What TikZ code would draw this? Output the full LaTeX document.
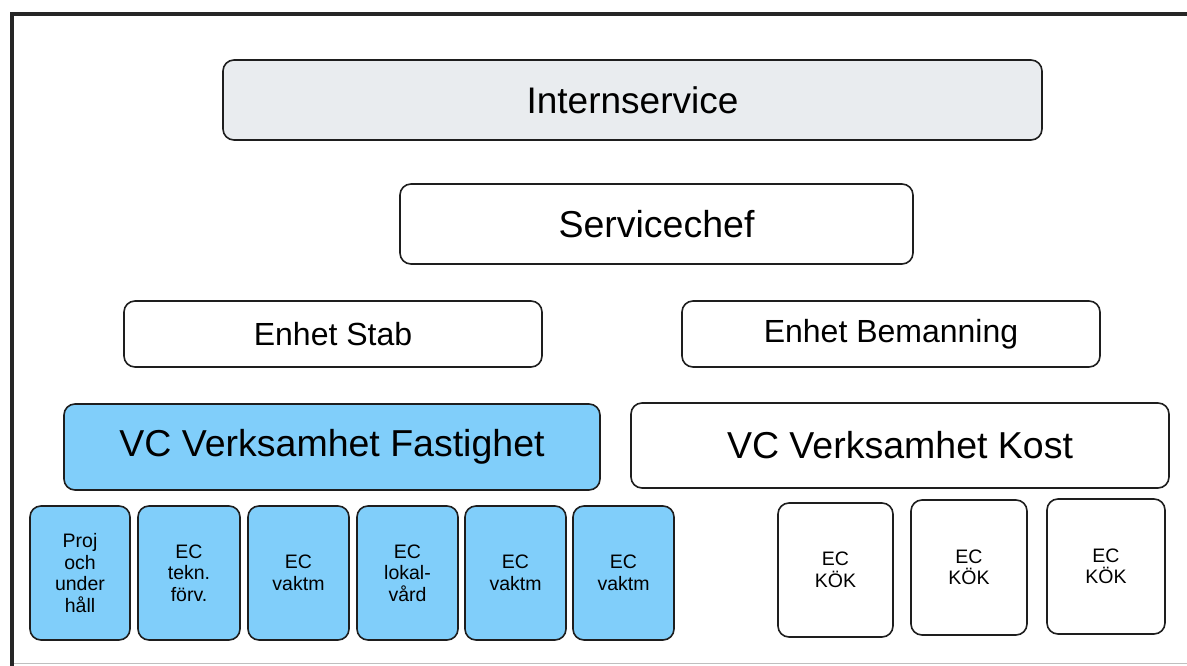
\documentclass[tikz,border=0pt]{standalone}
\usepackage{fontspec}
\setmainfont{Liberation Sans}
\definecolor{boxblue}{RGB}{128,206,250}
\definecolor{boxgray}{RGB}{233,236,239}
\definecolor{edge}{RGB}{30,30,30}
\tikzset{
  px/.style={x=1pt,y=-1pt},
  rbox/.style={draw=edge,line width=1.6pt,rounded corners=11pt,inner sep=0pt,align=center,text=black},
  bluebox/.style={rbox,fill=boxblue},
  whitebox/.style={rbox,fill=white},
  graybox/.style={rbox,fill=boxgray},
  small/.style={font=\fontsize{19.5}{21.5}\selectfont},
}
\begin{document}
\begin{tikzpicture}[px]
\useasboundingbox (0,0) rectangle (1187,666);
% frame
\draw[line width=4.5pt,draw=black!85] (12,666) coordinate (fl) -- (12,14) coordinate (ftl) -- (1187,14) coordinate (ftr);
\draw[line width=1pt,draw=black!25] (14,663) coordinate (fb1) -- (1187,663) coordinate (fb2);

\node[graybox,minimum width=819pt,minimum height=80pt,font=\fontsize{37}{42}\selectfont] (intern) at (632.5,100) {Internservice};
\node[whitebox,minimum width=513pt,minimum height=80pt,font=\fontsize{37.5}{42}\selectfont] (chef) at (656.5,224) {Servicechef};
\node[whitebox,minimum width=418pt,minimum height=66pt,font=\fontsize{32}{36}\selectfont] (stab) at (333,334) {Enhet Stab};
\node[whitebox,minimum width=418pt,minimum height=66pt,font=\fontsize{32}{36}\selectfont] (bem) at (891,334) {Enhet Bemanning};
\node[bluebox,minimum width=536pt,minimum height=86pt,font=\fontsize{37.5}{42}\selectfont] (fast) at (332,447) {VC Verksamhet Fastighet};
\node[whitebox,minimum width=538pt,minimum height=85pt,font=\fontsize{37.5}{42}\selectfont] (kost) at (900,445.5) {VC Verksamhet Kost};

\node[bluebox,small,minimum width=100pt,minimum height=134pt] (b1) at (80,573) {Proj\\och\\under\\håll};
\node[bluebox,small,minimum width=102pt,minimum height=134pt] (b2) at (189,573) {EC\\tekn.\\förv.};
\node[bluebox,small,minimum width=101pt,minimum height=134pt] (b3) at (298.5,573) {EC\\vaktm};
\node[bluebox,small,minimum width=101pt,minimum height=134pt] (b4) at (407.5,573) {EC\\lokal-\\vård};
\node[bluebox,small,minimum width=101pt,minimum height=134pt] (b5) at (515.5,573) {EC\\vaktm};
\node[bluebox,small,minimum width=101pt,minimum height=134pt] (b6) at (623.5,573) {EC\\vaktm};

\node[whitebox,small,minimum width=115pt,minimum height=134pt] (k1) at (835.5,570) {EC\\KÖK};
\node[whitebox,small,minimum width=116pt,minimum height=135pt] (k2) at (969,567.5) {EC\\KÖK};
\node[whitebox,small,minimum width=118pt,minimum height=135pt] (k3) at (1106,566.5) {EC\\KÖK};
\end{tikzpicture}
\end{document}
